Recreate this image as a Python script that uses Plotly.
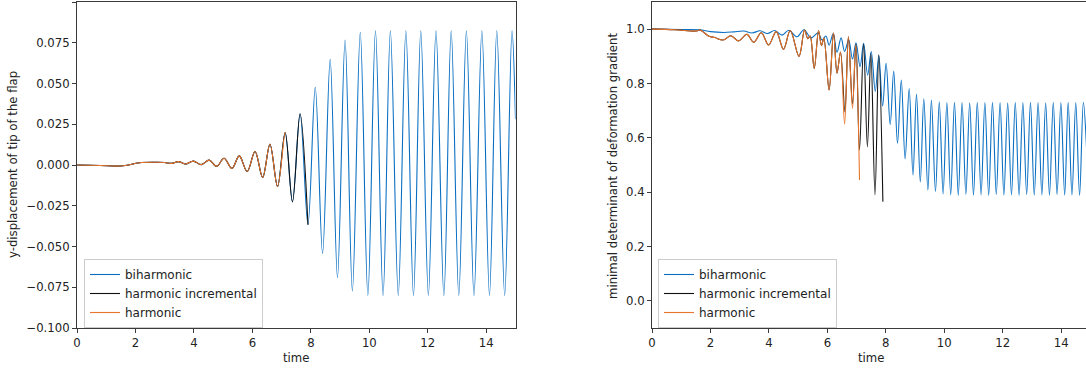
import plotly.graph_objects as go

# ---------------- data (extrema of the curves) ----------------
# Left panel: y-displacement of tip of the flap
disp_harm_t = [0.0, 0.8, 1.5, 2.2, 2.75, 3.0, 3.24, 3.47, 3.72, 3.98, 4.25, 4.52, 4.78, 5.03,
               5.30, 5.55, 5.82, 6.09, 6.35, 6.60, 6.86, 7.12, 7.14]
disp_harm_y = [0.0, -0.0003, -0.0006, 0.0015, 0.0017, 0.0015, 0.0010, 0.0021, 0.0006, 0.0024,
               0.0002, 0.0030, -0.0008, 0.0041, -0.0021, 0.0056, -0.0040, 0.0083, -0.0076,
               0.0127, -0.0132, 0.0199, 0.0195]

disp_inc_t = [0.0, 0.8, 1.5, 2.2, 2.75, 3.0, 3.24, 3.47, 3.72, 3.98, 4.25, 4.52, 4.78, 5.03,
              5.30, 5.55, 5.82, 6.09, 6.35, 6.60, 6.86, 7.12, 7.37, 7.63, 7.90]
disp_inc_y = [0.0, -0.0003, -0.0006, 0.0015, 0.0017, 0.0015, 0.0010, 0.0021, 0.0006, 0.0024,
              0.0002, 0.0030, -0.0008, 0.0041, -0.0021, 0.0056, -0.0040, 0.0083, -0.0076,
              0.0127, -0.0132, 0.0199, -0.0226, 0.0314, -0.0366]

disp_bi_t = [0.0, 0.8, 1.5, 2.2, 2.75, 3.0, 3.24, 3.47, 3.72, 3.98, 4.25, 4.52, 4.78, 5.03,
             5.30, 5.55, 5.82, 6.09, 6.35, 6.60, 6.86, 7.12, 7.37, 7.63, 7.90,
             8.15, 8.40, 8.66, 8.91, 9.17, 9.42, 9.69, 9.95, 10.21, 10.47, 10.72, 10.99,
             11.25, 11.51, 11.76, 12.02, 12.28, 12.55, 12.80, 13.06, 13.32, 13.58, 13.85,
             14.11, 14.36, 14.63, 14.88, 15.0]
disp_bi_y = [0.0, -0.0003, -0.0006, 0.0015, 0.0017, 0.0015, 0.0010, 0.0021, 0.0006, 0.0024,
             0.0002, 0.0030, -0.0008, 0.0041, -0.0021, 0.0056, -0.0040, 0.0083, -0.0076,
             0.0127, -0.0132, 0.0199, -0.0226, 0.0314, -0.0366,
             0.0477, -0.0542, 0.0648, -0.0691, 0.0767, -0.0773, 0.0814, -0.0800, 0.0824,
             -0.0801, 0.0824, -0.0800, 0.0824, -0.0801, 0.0824, -0.0800, 0.0824, -0.0801,
             0.0824, -0.0800, 0.0824, -0.0801, 0.0824, -0.0800, 0.0824, -0.0801, 0.0824,
             0.028]

# Right panel: minimal determinant of deformation gradient
det_harm_t = [0.0, 0.8, 1.50, 1.64, 1.95, 2.15, 2.43, 2.70, 2.96, 3.25, 3.48, 3.74, 3.99,
              4.25, 4.50, 4.73, 5.03, 5.22, 5.33, 5.41, 5.55, 5.70, 5.80, 5.88, 6.06, 6.21,
              6.33, 6.45, 6.59, 6.72, 6.86, 6.97, 7.10]
det_harm_y = [1.0, 0.998, 0.993, 0.997, 0.974, 0.969, 0.960, 0.976, 0.957, 0.981, 0.952,
              0.987, 0.942, 0.991, 0.926, 0.995, 0.900, 0.997, 0.965, 0.975, 0.855, 0.994,
              0.940, 0.966, 0.776, 0.986, 0.838, 0.916, 0.650, 0.972, 0.708, 0.941, 0.445]

det_inc_t = [0.0, 0.8, 1.50, 1.64, 1.95, 2.15, 2.43, 2.70, 2.96, 3.25, 3.48, 3.74, 3.99,
             4.25, 4.50, 4.73, 5.03, 5.22, 5.33, 5.41, 5.55, 5.70, 5.80, 5.88, 6.06, 6.21,
             6.33, 6.45, 6.60, 6.72, 6.86, 6.98, 7.10, 7.24, 7.37, 7.49, 7.63, 7.76, 7.90]
det_inc_y = [1.0, 0.998, 0.993, 0.997, 0.974, 0.969, 0.960, 0.976, 0.957, 0.981, 0.952,
             0.987, 0.942, 0.991, 0.926, 0.995, 0.900, 0.997, 0.965, 0.975, 0.855, 0.994,
             0.940, 0.966, 0.776, 0.986, 0.838, 0.916, 0.695, 0.972, 0.725, 0.945, 0.555,
             0.945, 0.567, 0.910, 0.390, 0.906, 0.365]

det_bi_t = [0.0, 1.0, 1.62, 2.0, 2.45, 2.8, 3.14, 3.42, 3.70, 3.95, 4.20, 4.45, 4.68, 4.96,
            5.20, 5.44, 5.68, 5.82, 5.95, 6.06, 6.20, 6.33, 6.47, 6.59, 6.73, 6.86, 6.98,
            7.12, 7.24, 7.38, 7.50, 7.64, 7.76, 7.89, 8.01, 8.15, 8.27, 8.40, 8.53, 8.66,
            8.80, 8.93, 9.05, 9.18, 9.30, 9.44, 9.56, 9.70, 9.83, 9.96, 10.09, 10.22,
            10.35, 10.48, 10.61, 10.74, 10.87, 11.00, 11.13, 11.26, 11.39, 11.52, 11.65,
            11.78, 11.91, 12.04, 12.17, 12.30, 12.43, 12.56, 12.69, 12.82, 12.95, 13.08,
            13.21, 13.34, 13.47, 13.60, 13.73, 13.86, 13.99, 14.12, 14.24, 14.37, 14.50,
            14.63, 14.76, 14.87]
det_bi_y = [1.0, 0.999, 0.998, 0.991, 0.988, 0.990, 0.993, 0.986, 0.994, 0.984, 0.995,
            0.978, 0.996, 0.972, 0.998, 0.968, 0.986, 0.960, 0.975, 0.941, 0.984, 0.915,
            0.968, 0.918, 0.960, 0.890, 0.950, 0.862, 0.948, 0.831, 0.918, 0.771, 0.903,
            0.717, 0.874, 0.649, 0.846, 0.580, 0.8125, 0.522, 0.781, 0.463, 0.761, 0.4375,
            0.744, 0.408, 0.739, 0.402, 0.733, 0.393, 0.730, 0.390, 0.731, 0.388, 0.730,
            0.392, 0.729, 0.389, 0.731, 0.390, 0.730, 0.388, 0.731, 0.391, 0.730, 0.389,
            0.729, 0.390, 0.731, 0.388, 0.730, 0.391, 0.731, 0.389, 0.730, 0.390, 0.729,
            0.388, 0.731, 0.391, 0.730, 0.389, 0.731, 0.390, 0.730, 0.388, 0.731, 0.56]

x_ticks = [0, 2, 4, 6, 8, 10, 12, 14]
series_names = ["biharmonic", "harmonic incremental", "harmonic"]

# ---------------- styling ----------------
BLUE = "#0a6fc2"
BLACK = "#111111"
ORANGE = "#e8752a"
colors = [BLUE, BLACK, ORANGE]
FONT = "DejaVu Sans"
W, H = 1086, 373

def px_x(p):
    return p / W

def px_y(p):
    return 1 - p / H

fig = go.Figure()

left = [(disp_bi_t, disp_bi_y), (disp_inc_t, disp_inc_y), (disp_harm_t, disp_harm_y)]
right = [(det_bi_t, det_bi_y), (det_inc_t, det_inc_y), (det_harm_t, det_harm_y)]

for (t, y), name, c in zip(left, series_names, colors):
    fig.add_trace(go.Scatter(x=t, y=y, name=name, mode="lines",
                             line=dict(color=c, width=1.1, shape="spline", smoothing=1),
                             xaxis="x", yaxis="y", legend="legend"))
for (t, y), name, c in zip(right, series_names, colors):
    fig.add_trace(go.Scatter(x=t, y=y, name=name, mode="lines",
                             line=dict(color=c, width=1.1, shape="spline", smoothing=1),
                             xaxis="x2", yaxis="y2", legend="legend2"))

ydom = [px_y(328), px_y(2)]
axis_common = dict(showgrid=False, zeroline=False, showline=True, linecolor="#3a3a3a",
                   linewidth=1, ticks="outside", ticklen=4, tickwidth=1, tickcolor="#3a3a3a",
                   automargin=False,
                   tickfont=dict(family=FONT, size=11.7, color="#222"))

fig.update_layout(
    width=W, height=H,
    autosize=False,
    margin=dict(l=0, r=0, t=0, b=0, pad=0),
    paper_bgcolor="white", plot_bgcolor="white",
    font=dict(family=FONT, size=12, color="#222"),
    xaxis=dict(domain=[px_x(77), px_x(515.5)], range=[0, 15], tickvals=x_ticks,
               mirror=True, anchor="y", **axis_common),
    yaxis=dict(domain=ydom, range=[-0.1, 0.1000001], tick0=0, dtick=0.025, tickformat=".3f",
               mirror=True, anchor="x", **axis_common),
    xaxis2=dict(domain=[px_x(652), 1.0], range=[0, 14.85], tickvals=x_ticks,
                mirror=True, anchor="y2", **axis_common),
    yaxis2=dict(domain=ydom, range=[-0.1, 1.1], tick0=0, dtick=0.2, tickformat=".1f",
                anchor="x2", **axis_common),
    legend=dict(x=px_x(84), y=px_y(259), xanchor="left", yanchor="top",
                bgcolor="rgba(255,255,255,0.85)", bordercolor="#cccccc", borderwidth=1,
                font=dict(family=FONT, size=12, color="#222"), tracegroupgap=0),
    legend2=dict(x=px_x(658), y=px_y(259), xanchor="left", yanchor="top",
                 bgcolor="rgba(255,255,255,0.85)", bordercolor="#cccccc", borderwidth=1,
                 font=dict(family=FONT, size=12, color="#222"), tracegroupgap=0),
    showlegend=True,
)

# axis titles
ann_font = dict(family=FONT, size=11.7, color="#222")
fig.add_annotation(text="time", x=px_x((77 + 515.5) / 2), y=px_y(358), xref="paper", yref="paper",
                   showarrow=False, font=ann_font, xanchor="center", yanchor="middle")
fig.add_annotation(text="time", x=px_x(871), y=px_y(358), xref="paper", yref="paper",
                   showarrow=False, font=ann_font, xanchor="center", yanchor="middle")
fig.add_annotation(text="y-displacement of tip of the flap", x=px_x(13), y=px_y(165),
                   xref="paper", yref="paper", showarrow=False, font=ann_font, textangle=-90,
                   xanchor="center", yanchor="middle")
fig.add_annotation(text="minimal determinant of deformation gradient", x=px_x(613), y=px_y(166),
                   xref="paper", yref="paper", showarrow=False, font=ann_font, textangle=-90,
                   xanchor="center", yanchor="middle")

fig.write_html(
    "out.html",
    config={"displayModeBar": False},
    post_script="document.body.style.margin='0';document.body.style.padding='0';"
                "document.body.style.overflow='hidden';",
)
